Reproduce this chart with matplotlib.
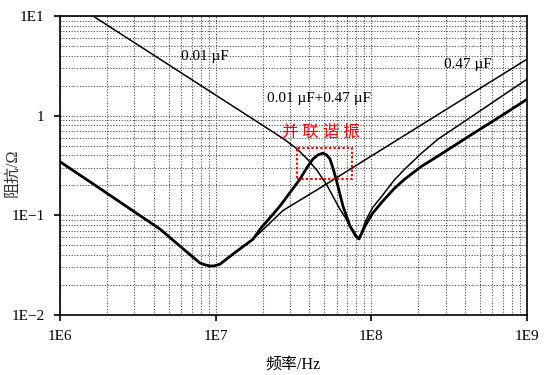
import numpy as np
import matplotlib.pyplot as plt
from matplotlib.ticker import FixedLocator, NullFormatter, LogLocator

# impedance curves (frequency in Hz, |Z| in ohm)
f_047 = [1e6, 1.63e6, 2.69e6, 4.39e6, 6.54e6, 7.93e6, 8.6e6, 9.2e6, 9.9e6,
         1.07e7, 1.29e7, 1.74e7, 2.2e7, 2.71e7, 4.89e7, 7.85e7, 1e9]
z_047 = [0.345, 0.207, 0.122, 0.0728, 0.0428, 0.0332, 0.0318, 0.031, 0.0312,
         0.0325, 0.0408, 0.0577, 0.082, 0.112, 0.196, 0.311, 3.69]

f_001 = [1.63e6, 2.71e7, 3.3e7, 3.86e7, 4.5e7, 5.19e7, 5.8e7, 6.29e7, 6.8e7,
         7.29e7, 7.85e7, 8.2e7, 8.7e7, 9.1e7, 1.02e8, 1.17e8, 1.4e8, 1.64e8,
         2.1e8, 2.68e8, 4.43e8, 7.21e8, 1e9]
z_001 = [10.0, 0.59, 0.47, 0.37, 0.28, 0.20, 0.145, 0.115, 0.095,
         0.078, 0.0618, 0.058, 0.068, 0.0855, 0.12, 0.156, 0.225, 0.291,
         0.42, 0.581, 0.984, 1.645, 2.32]

f_par = [1e6, 1.63e6, 2.69e6, 4.39e6, 6.54e6, 7.93e6, 8.6e6, 9.2e6, 9.9e6,
         1.07e7, 1.29e7, 1.74e7, 1.93e7, 2.59e7, 3.48e7, 3.85e7, 4.22e7, 4.55e7,
         4.89e7, 5.15e7, 5.42e7, 5.7e7, 6.01e7, 6.57e7, 7.29e7, 8.08e7, 8.35e7,
         9.1e7, 1.02e8, 1.17e8, 1.4e8, 1.64e8, 2.1e8, 2.68e8, 4.43e8, 7.21e8, 1e9]
z_par = [0.345, 0.207, 0.122, 0.0728, 0.0428, 0.0332, 0.0318, 0.031, 0.0312,
         0.0325, 0.0408, 0.0577, 0.0727, 0.124, 0.231, 0.30, 0.368, 0.405,
         0.421, 0.405, 0.368, 0.29, 0.215, 0.124, 0.078, 0.0604, 0.058,
         0.078, 0.105, 0.136, 0.185, 0.231, 0.31, 0.393, 0.65, 1.05, 1.46]

# box around the parallel resonance
box_f = [3.33e7, 7.5e7]
box_z = [0.231, 0.472]

x_ticks = [1e6, 1e7, 1e8, 1e9]
x_labels = ['1E6', '1E7', '1E8', '1E9']
y_ticks = [1e-2, 1e-1, 1, 10]
y_labels = ['1E\u22122', '1E\u22121', '1', '1E1']

serif = ['Liberation Serif', 'DejaVu Serif']
cjk = ['Liberation Serif', 'Noto Sans CJK SC']

fig = plt.figure(figsize=(5.54, 3.75), dpi=100)
ax = fig.add_axes([60/554, 60/375, 467/554, 299/375])

ax.plot(f_047, z_047, color='k', lw=1.1)
ax.plot(f_001, z_001, color='k', lw=1.1)
ax.plot(f_par, z_par, color='k', lw=2.0)

ax.plot([box_f[0], box_f[1], box_f[1], box_f[0], box_f[0]],
        [box_z[0], box_z[0], box_z[1], box_z[1], box_z[0]],
        color='red', lw=1.6, ls=(0, (1, 1)))

ax.set_xscale('log')
ax.set_yscale('log')
ax.set_xlim(1e6, 1e9)
ax.set_ylim(1e-2, 1e1)

ax.xaxis.set_major_locator(FixedLocator(x_ticks))
ax.yaxis.set_major_locator(FixedLocator(y_ticks))
ax.set_xticklabels(x_labels, family=serif, fontsize=11)
ax.set_yticklabels(y_labels, family=serif, fontsize=11)
ax.xaxis.set_minor_locator(LogLocator(base=10, subs=np.arange(2, 10)))
ax.yaxis.set_minor_locator(LogLocator(base=10, subs=np.arange(2, 10)))
ax.xaxis.set_minor_formatter(NullFormatter())
ax.yaxis.set_minor_formatter(NullFormatter())
ax.tick_params(which='major', direction='out', length=4, width=1.2, pad=7)
ax.tick_params(which='minor', length=0)
ax.grid(True, which='both', color='0.3', lw=0.8, ls=(0, (1, 1.5)))
for s in ax.spines.values():
    s.set_linewidth(1.2)

ax.text(8.5e6, 3.95, '0.01 \u00b5F', family=serif, fontsize=11, ha='center', va='center')
ax.text(4.6e7, 1.5, '0.01 \u00b5F+0.47 \u00b5F', family=serif, fontsize=11, ha='center', va='center')
ax.text(4.17e8, 3.29, '0.47 \u00b5F', family=serif, fontsize=11, ha='center', va='center')
ax.text(4.75e7, 0.683, '并 联 谐 振', family=['Noto Sans CJK SC', 'DejaVu Sans'],
        fontsize=12, color='red', ha='center', va='center')

ax.set_xlabel('频率/Hz', family=cjk, fontsize=11.5, labelpad=10)
fig.text(0.022, 0.54, '阻抗/Ω', family=cjk, fontsize=11.5, rotation=90,
         ha='center', va='center', color='0.2')

plt.savefig('out.png', dpi=100)
